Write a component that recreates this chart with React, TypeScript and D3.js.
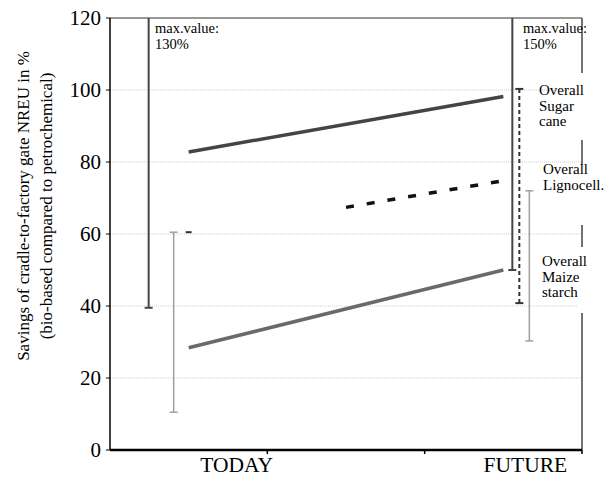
import React from 'react';
import * as d3 from 'd3';

// x categories (middle slot has no label)
const periods = ['TODAY', 'MID', 'FUTURE'];
const tickLabels = ['TODAY', '', 'FUTURE'];
const yTicks = [0, 20, 40, 60, 80, 100, 120];

// overall savings, %
const sugarCane = [
  { p: 'TODAY', v: 82.8 },
  { p: 'FUTURE', v: 98.2 },
];
const lignocell = [
  { p: 'MID', v: 67.4 },
  { p: 'FUTURE', v: 74.8 },
];
const maizeStarch = [
  { p: 'TODAY', v: 28.4 },
  { p: 'FUTURE', v: 50 },
];

// ranges (min/max)
const rangeSeries = ['sugar', 'maize', 'sugar', 'ligno', 'maize'];
const rangePeriod = ['TODAY', 'TODAY', 'FUTURE', 'FUTURE', 'FUTURE'];
const rangeLow = [39.5, 10.5, 50, 40.8, 30.3];
const rangeHigh = [130, 60.5, 150, 100.3, 72];

const W = 614;
const H = 477;
const left = 110;
const right = 582;
const top = 18;
const bottom = 450;

const serif = '"Liberation Serif", "Times New Roman", serif';

const styles: Record<string, { color: string; width: number; dash?: string }> = {
  sugar: { color: '#444', width: 2 },
  maize: { color: '#a0a0a0', width: 1.5 },
  ligno: { color: '#333', width: 2, dash: '4,3' },
};
// horizontal nudge of each range bar from its category centre
const rangeOffset = [-40, -15, 9, 16, 26];

export default function App() {
  const x = d3.scaleBand().domain(periods).range([left, right]);
  const y = d3.scaleLinear().domain([0, 120]).range([bottom, top]);
  const cx = (p: string) => (x(p) as number) + x.bandwidth() / 2;

  const line = d3
    .line<{ p: string; v: number }>()
    .x((d) => cx(d.p))
    .y((d) => y(d.v));

  const labelBoxes = [
    { lines: ['Overall', 'Sugar', 'cane'], x: 539, y: 95, y0: 73, y1: 140 },
    { lines: ['Overall', 'Lignocell.'], x: 543, y: 174, y0: 165, y1: 225 },
    { lines: ['Overall', 'Maize', 'starch'], x: 542, y: 266, y0: 247, y1: 313 },
  ];

  return (
    <svg
      width={W}
      height={H}
      style={{ position: 'absolute', left: 0, top: 0, background: '#fff', fontFamily: serif }}
    >
      <defs>
        <clipPath id="plot">
          <rect x={left} y={top} width={right - left} height={bottom - top} />
        </clipPath>
      </defs>

      {/* gridlines */}
      {yTicks.slice(1, -1).map((t) => (
        <line
          key={t}
          x1={left}
          x2={right}
          y1={y(t)}
          y2={y(t)}
          stroke="#d0d0d0"
          strokeWidth={1}
          strokeDasharray="1,1"
        />
      ))}

      {/* frame top and right */}
      <line x1={left} x2={right} y1={top} y2={top} stroke="#333" strokeWidth={1.2} />
      <line x1={right} x2={right} y1={top} y2={bottom} stroke="#444" strokeWidth={1.5} />

      {/* range bars */}
      <g clipPath="url(#plot)">
        {rangeLow.map((lo, i) => {
          const s = styles[rangeSeries[i]];
          const xx = cx(rangePeriod[i]) + rangeOffset[i];
          const hi = rangeHigh[i];
          return (
            <g key={i} stroke={s.color} strokeWidth={s.width}>
              <line x1={xx} x2={xx} y1={y(hi)} y2={y(lo)} strokeDasharray={s.dash} />
              <line x1={xx - 4} x2={xx + 4} y1={y(lo)} y2={y(lo)} />
              {hi <= 120 && <line x1={xx - 4} x2={xx + 4} y1={y(hi)} y2={y(hi)} />}
            </g>
          );
        })}
      </g>
      {/* small marker at today's lignocell level */}
      <line
        x1={cx('TODAY') - 3}
        x2={cx('TODAY') + 3}
        y1={y(60.5)}
        y2={y(60.5)}
        stroke="#333"
        strokeWidth={2}
      />

      {/* lines */}
      <path d={line(sugarCane) as string} fill="none" stroke="#444" strokeWidth={3.5} />
      <path d={line(maizeStarch) as string} fill="none" stroke="#6a6a6a" strokeWidth={3.5} />
      <path
        d={line(lignocell) as string}
        fill="none"
        stroke="#111"
        strokeWidth={3.5}
        strokeDasharray="8,13"
      />

      {/* max value notes */}
      <text x={155} y={33} fontSize={14.5}>max.value:</text>
      <text x={155} y={48.5} fontSize={14.5}>130%</text>
      <text x={523} y={33} fontSize={14.5}>max.value:</text>
      <text x={523} y={48.5} fontSize={14.5}>150%</text>

      {/* series labels on white boxes */}
      {labelBoxes.map((b, i) => (
        <g key={i}>
          <rect x={right - 4} y={b.y0} width={8} height={b.y1 - b.y0} fill="#fff" />
          {b.lines.map((t, j) => (
            <text key={j} x={b.x} y={b.y + j * 15.5} fontSize={15}>
              {t}
            </text>
          ))}
        </g>
      ))}

      {/* y axis */}
      <line x1={left} x2={left} y1={top} y2={bottom} stroke="#000" strokeWidth={1.5} />
      {yTicks.map((t) => (
        <g key={t}>
          <line x1={left - 4} x2={left} y1={y(t)} y2={y(t)} stroke="#000" />
          <text x={left - 9} y={y(t)} dy="0.35em" textAnchor="end" fontSize={21}>
            {t}
          </text>
        </g>
      ))}

      {/* x axis */}
      <line x1={left} x2={right} y1={bottom} y2={bottom} stroke="#000" strokeWidth={2.5} />
      {periods.map((p) => (
        <line
          key={p}
          x1={(x(p) as number) + x.bandwidth()}
          x2={(x(p) as number) + x.bandwidth()}
          y1={bottom}
          y2={bottom + 4}
          stroke="#000"
          strokeWidth={1.5}
        />
      ))}
      <text x={cx('TODAY') + 48} y={472} textAnchor="middle" fontSize={21.5}>
        {tickLabels[0]}
      </text>
      <text x={cx('FUTURE') + 22} y={472} textAnchor="middle" fontSize={21.5}>
        {tickLabels[2]}
      </text>

      {/* y title */}
      <g transform="translate(0,206) rotate(-90)" fontSize={17} textAnchor="middle">
        <text x={0} y={29}>Savings of cradle-to-factory gate NREU in %</text>
        <text x={0} y={52}>(bio-based compared to petrochemical)</text>
      </g>
    </svg>
  );
}
